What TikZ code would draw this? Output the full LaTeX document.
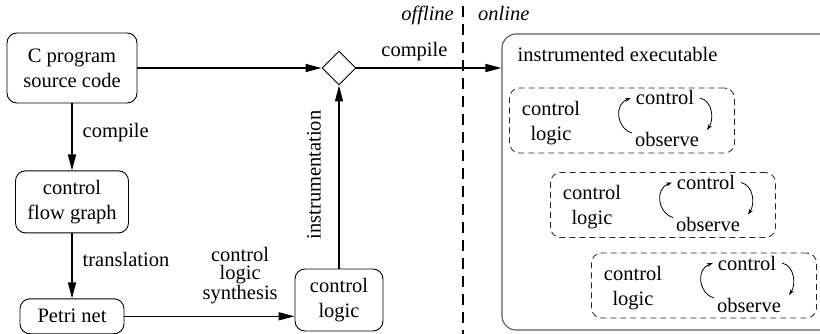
\documentclass[tikz,border=0pt]{standalone}
\usepackage{fontspec}
\setmainfont{Liberation Serif}
\newfontfamily\tms{Liberation Serif}
\usetikzlibrary{positioning,shapes,arrows.meta,calc}
\newcommand\txtsz{\tms\fontsize{20.5}{25}\selectfont}
\tikzstyle{bx}=[%
      rectangle, rounded corners=10pt, draw=black, line width=0.9pt,
      align=center, inner sep=2pt
]
\tikzstyle{grp}=[%
      rectangle, rounded corners=10pt, draw=black!85, dash pattern=on 6pt off 4pt,
      line width=0.8pt, minimum width=225pt, minimum height=65pt
]
\tikzstyle{big}=[%
      rectangle, rounded corners=14pt, draw=black!65, line width=1.1pt,
      minimum width=343pt, minimum height=296pt
]
\tikzstyle{dia}=[diamond, draw=black, line width=0.9pt, minimum size=34pt, inner sep=0pt]
\tikzstyle{lbl}=[inner sep=1pt]
\tikzstyle{flow}=[line width=1.4pt, -{Triangle[length=16pt,width=8pt]}]
\tikzstyle{loopy}=[line width=0.8pt, -{Stealth[length=6pt,width=4pt]}]
\tikzstyle{cut}=[line width=1.5pt, dash pattern=on 11pt off 7pt]

\begin{document}
\begin{tikzpicture}[x=1pt, y=-1pt, font=\txtsz]
    \clip (0,0) rectangle (820,334);

    \node[bx, minimum width=130pt, minimum height=70pt] (src) at (72,68) {C program\\source code};
    \node[bx, minimum width=113pt, minimum height=62pt, below=67pt of src] (cfg) {control\\flow graph};
    \node[bx, minimum width=104pt, minimum height=35pt, below=65pt of cfg] (petri) {Petri net};
    \node[bx, minimum width=88pt, minimum height=62pt] (ctl) at (339,300) {control\\logic};
    \node[dia] (mix) at (339,68) {};
    \node[big] (exe) at (673.5,182) {};
    \node[lbl, anchor=base west] (exetxt) at ($(exe.north west)+(15,28)$) {instrumented executable};

    % offline / online split
    \coordinate (ctop) at (463,6);
    \coordinate (cbot) at (463,334);
    \draw[cut] (ctop) -- (cbot);
    \node[lbl, anchor=base east, font=\txtsz\itshape] (off) at ($(ctop)+(-8,15)$) {offline};
    \node[lbl, anchor=base west, font=\txtsz\itshape] (on) at ($(ctop)+(14,15)$) {online};

    \draw[flow] (src) -- node[lbl, right=9pt, pos=0.44] {compile} (cfg);
    \draw[flow] (cfg) -- node[lbl, right=9pt, pos=0.4] {translation} (petri);
    \draw[flow] (petri.east) -- node[lbl, above=11pt, pos=0.68, align=center,
        font=\tms\fontsize{20.5}{18.5}\selectfont] {control\\logic\\synthesis} (petri.east -| ctl.west);
    \draw[flow] (ctl) -- (mix);
    \node[lbl, rotate=90, anchor=south] (ins) at (322,175) {instrumentation};
    \draw[flow] (src.east) -- (mix.west);
    \draw[flow] (mix.east) -- node[lbl, above=5pt, pos=0.4] {compile} (mix.east -| exe.west);

    % running control loops
    \foreach \n/\cx/\cy in {1/622/120.5, 2/663/205, 3/704/285.5} {
      \node[grp] (g\n) at (\cx,\cy) {};
      \node[lbl, align=center] (gl\n) at ($(g\n)+(-71,2.5)$) {control\\logic};
      \node[lbl, anchor=base] (gc\n) at ($(g\n)+(43,-15.5)$) {control};
      \node[lbl, anchor=base] (go\n) at ($(g\n)+(45,26.5)$) {observe};
      \draw[loopy] ($(g\n)+(10,12.5)$) .. controls ($(g\n)+(-6,7.5)$) and ($(g\n)+(-8,-16.5)$) .. ($(g\n)+(9,-22.5)$);
      \draw[loopy] ($(g\n)+(78,-22.5)$) .. controls ($(g\n)+(91,-19.5)$) and ($(g\n)+(92,-0.5)$) .. ($(g\n)+(85,9.5)$);
    }
\end{tikzpicture}
\end{document}
